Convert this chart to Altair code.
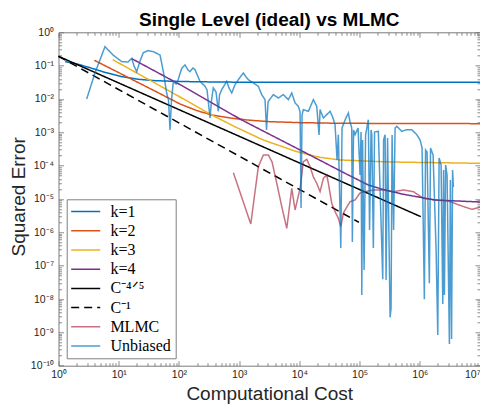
import altair as alt
import pandas as pd

# ---------------- data (log10 of cost, log10 of squared error) ----------------
series_names = ["k=1", "k=2", "k=3", "k=4", "C⁻⁴ᐟ⁵", "C⁻¹", "MLMC", "Unbiased"]

k1_lx = [0.11, 0.27, 0.50, 0.77, 1.05, 1.33, 1.60, 1.90, 2.18, 2.60, 3.20, 7.00]
k1_ly = [-0.88, -0.93, -1.05, -1.20, -1.33, -1.41, -1.45, -1.47, -1.48, -1.49, -1.50, -1.50]

k2_lx = [0.595, 1.00, 1.304, 1.686, 2.018, 2.30, 2.545, 2.85, 3.126, 3.50, 4.01, 4.68, 7.00]
k2_ly = [-0.84, -1.21, -1.49, -1.84, -2.15, -2.35, -2.48, -2.57, -2.63, -2.68, -2.71, -2.73, -2.74]

k3_lx = [0.90, 1.50, 2.018, 2.545, 2.95, 3.40, 3.957, 4.34, 4.68, 5.50, 7.00]
k3_ly = [-0.82, -1.42, -1.94, -2.48, -2.85, -3.23, -3.58, -3.75, -3.83, -3.89, -3.93]

k4_lx = [1.216, 2.018, 3.043, 4.012, 4.759, 5.146, 5.40, 5.701, 6.254, 7.00]
k4_ly = [-0.79, -1.57, -2.63, -3.53, -4.23, -4.58, -4.72, -4.85, -5.03, -5.09]

ref45_lx = [0.0, 6.017]
ref45_ly = [-0.72, -5.53]

ref1_lx = [0.0, 4.99]
ref1_ly = [-0.72, -5.70]

mlmc_lx = [2.904, 3.193, 3.319, 3.402, 3.485, 3.547, 3.625, 3.708, 3.791, 3.874, 3.929,
           4.012, 4.066, 4.123, 4.178, 4.233, 4.289, 4.344, 4.399, 4.455, 4.482, 4.538,
           4.593, 4.648, 4.688, 4.731, 4.759, 4.842, 4.925, 5.008, 5.091, 5.229, 5.395,
           5.561, 5.728, 5.894, 6.060, 6.254, 6.475, 6.698, 6.864, 7.000]
mlmc_ly = [-4.21, -5.75, -4.03, -3.68, -3.68, -3.89, -4.53, -5.23, -5.88, -4.68, -5.33,
           -4.68, -3.88, -3.81, -4.03, -4.34, -4.53, -4.78, -4.38, -4.28, -4.53, -5.13,
           -5.38, -5.58, -5.83, -5.43, -5.33, -5.08, -5.03, -4.82, -4.78, -4.73, -4.73,
           -4.78, -4.73, -4.78, -4.98, -5.03, -5.06, -5.21, -5.31, -5.25]

unb_lx = [0.468, 0.606, 0.772, 0.905, 1.050, 1.154, 1.216, 1.254, 1.299, 1.354, 1.409,
          1.487, 1.575, 1.686, 1.741, 1.797, 1.827, 1.852, 1.877, 1.907, 1.952, 1.985,
          2.047, 2.101, 2.151, 2.184, 2.234, 2.267, 2.350, 2.434, 2.467, 2.517, 2.542,
          2.571, 2.616, 2.654, 2.674, 2.711, 2.794, 2.832, 2.877, 2.932, 2.987, 3.032,
          3.070, 3.115, 3.153, 3.236, 3.319, 3.375, 3.430, 3.455, 3.480, 3.505, 3.568,
          3.651, 3.734, 3.817, 3.874, 3.929, 3.983, 4.012, 4.028, 4.045, 4.066, 4.150,
          4.233, 4.289, 4.327, 4.344, 4.399, 4.455, 4.510, 4.548, 4.593, 4.626, 4.648,
          4.688, 4.709, 4.759, 4.814, 4.842, 4.870, 4.880, 4.900, 4.925, 4.975, 5.008,
          5.025, 5.037, 5.050, 5.075, 5.100, 5.146, 5.166, 5.191, 5.203, 5.229, 5.249,
          5.312, 5.385, 5.399, 5.424, 5.440, 5.465, 5.507, 5.523, 5.540, 5.565, 5.590,
          5.618, 5.701, 5.784, 5.867, 5.950, 6.005, 6.038, 6.076, 6.096, 6.121, 6.159,
          6.179, 6.221, 6.271, 6.299, 6.321, 6.354, 6.382, 6.395, 6.409, 6.429, 6.453,
          6.492, 6.508, 6.528, 6.545, 6.558]
unb_ly = [-2.00, -1.22, -0.43, -0.68, -0.88, -0.89, -0.78, -1.01, -1.18, -0.86, -0.61,
          -0.55, -0.58, -0.68, -1.18, -1.83, -2.03, -2.93, -2.03, -1.48, -1.55, -1.43,
          -1.08, -0.98, -1.13, -1.18, -1.07, -1.12, -1.47, -1.62, -1.73, -2.57, -2.03,
          -1.67, -1.79, -2.37, -1.88, -1.72, -1.47, -1.67, -1.82, -1.57, -1.42, -1.31,
          -1.22, -1.34, -1.42, -1.52, -1.62, -1.87, -2.02, -2.93, -2.09, -2.02, -1.87,
          -1.97, -1.87, -2.02, -1.82, -2.12, -2.22, -2.39, -5.27, -2.48, -2.32, -2.37,
          -2.02, -2.22, -3.08, -2.32, -2.57, -2.47, -2.37, -2.52, -2.77, -3.83, -3.07,
          -6.47, -2.87, -2.63, -2.42, -2.69, -2.87, -6.29, -2.93, -3.07, -2.87, -4.28,
          -2.99, -7.88, -3.23, -7.13, -3.08, -2.62, -5.93, -2.93, -3.07, -6.47, -2.99,
          -2.97, -7.41, -3.23, -3.07, -7.43, -3.17, -8.55, -8.28, -3.08, -5.93, -2.87,
          -2.82, -2.97, -2.92, -2.92, -3.07, -3.23, -3.47, -8.01, -3.53, -3.59, -7.53,
          -3.47, -3.68, -6.53, -9.08, -3.77, -3.98, -8.15, -4.13, -7.88, -3.98, -4.28,
          -9.35, -4.43, -9.20, -4.13, -4.64]

all_series = [
    (series_names[0], k1_lx, k1_ly),
    (series_names[1], k2_lx, k2_ly),
    (series_names[2], k3_lx, k3_ly),
    (series_names[3], k4_lx, k4_ly),
    (series_names[4], ref45_lx, ref45_ly),
    (series_names[5], ref1_lx, ref1_ly),
    (series_names[6], mlmc_lx, mlmc_ly),
    (series_names[7], unb_lx, unb_ly),
]

rows = []
for name, lxs, lys in all_series:
    for i, (a, b) in enumerate(zip(lxs, lys)):
        rows.append({"series": name, "cost": 10 ** a, "err": 10 ** b, "idx": i})
df = pd.DataFrame(rows)

# ---------------- styling ----------------
colors = ["#0072BD", "#D95319", "#EDB120", "#7E2F8E", "#000000", "#000000",
          "rgba(162,20,47,0.6)", "rgba(0,114,189,0.7)"]
dashes = [[1, 0], [1, 0], [1, 0], [1, 0], [1, 0], [8, 5], [1, 0], [1, 0]]
widths = [1.5, 1.5, 1.5, 1.5, 1.5, 1.8, 1.0, 1.0]

AX = "#262626"
TICK = "#6e6e6e"
SANS = "Liberation Sans"

x_major = [10.0 ** e for e in range(0, 8)]
x_minor = [m * 10.0 ** e for e in range(0, 7) for m in range(2, 10)]
y_major = [10.0 ** e for e in range(-10, 1)]
y_minor = [m * 10.0 ** e for e in range(-10, 0) for m in range(2, 10)]

sup = "['⁰','¹','²','³','⁴','⁵','⁶','⁷','⁸','⁹','¹⁰']"
label_expr = ("'10' + (datum.value < 0.5 ? '⁻' : '') + " + sup +
              "[round(abs(log(datum.value)/LN10))]")

xscale = alt.Scale(type="log", domain=[1, 1e7], nice=False)
yscale = alt.Scale(type="log", domain=[1e-10, 1], nice=False)

legend = alt.Legend(
    title=None, orient="none", legendX=8.2, legendY=167,
    symbolType="M-2.42,0H2.42", symbolSize=144,
    symbolOffset=6.7, labelOffset=16.7,
    labelFont="Liberation Serif", labelFontSize=16, labelColor="#000000",
    padding=4.3, rowPadding=3.2,
    strokeColor="#7f7f7f", fillColor="#ffffff",
)

main = alt.Chart(df).mark_line().encode(
    x=alt.X("cost:Q", scale=xscale, axis=alt.Axis(
        orient="bottom", values=x_major, labelExpr=label_expr, tickSize=5, offset=-5,
        domain=False, grid=False, labelPadding=4, labelFont=SANS, labelFontSize=10.5,
        labelColor=AX, tickColor=TICK, tickWidth=0.8, labelOverlap=False, labelFlush=False,
        labelAlign={"condition": {"test": "datum.value > 5000000", "value": "right"},
                    "value": "center"},
        title="Computational Cost", titleFont=SANS, titleFontSize=19,
        titleFontWeight="normal", titleColor=AX, titleY=39, titleBaseline="alphabetic")),
    y=alt.Y("err:Q", scale=yscale, axis=alt.Axis(
        orient="left", values=y_major, labelExpr=label_expr, tickSize=5, offset=-5,
        domain=False, grid=False, labelPadding=5, labelFont=SANS, labelFontSize=10.5,
        labelColor=AX, tickColor=TICK, tickWidth=0.8, labelOverlap=False, labelFlush=False,
        title="Squared Error", titleFont=SANS, titleFontSize=19, titleFontWeight="normal",
        titleColor=AX, titleX=-39.5, titleY=164, titleBaseline="alphabetic",
        titleAngle=270)),
    color=alt.Color("series:N", scale=alt.Scale(domain=series_names, range=colors), legend=legend),
    strokeDash=alt.StrokeDash("series:N", scale=alt.Scale(domain=series_names, range=dashes), legend=legend),
    strokeWidth=alt.StrokeWidth("series:N", scale=alt.Scale(domain=series_names, range=widths), legend=legend),
    order=alt.Order("idx:Q"),
    detail="series:N",
)


def tick_layer(xorient, yorient, xvals, yvals, size):
    return alt.Chart(df).mark_point(opacity=0, size=1).encode(
        x=alt.X("cost:Q", scale=xscale, axis=alt.Axis(
            orient=xorient, values=xvals, labels=False, tickSize=size, offset=-size,
            domain=False, grid=False, tickColor=TICK, tickWidth=0.8, title=None)),
        y=alt.Y("err:Q", scale=yscale, axis=alt.Axis(
            orient=yorient, values=yvals, labels=False, tickSize=size, offset=-size,
            domain=False, grid=False, tickColor=TICK, tickWidth=0.8, title=None)),
    )


chart = alt.layer(
    main,
    tick_layer("bottom", "left", x_minor, y_minor, 3),
    tick_layer("top", "right", x_major, y_major, 5),
    tick_layer("top", "right", x_minor, y_minor, 3),
).resolve_axis(x="independent", y="independent").properties(
    width=421.5, height=333.4,
    title=alt.TitleParams("Single Level (ideal) vs MLMC", font=SANS, fontSize=19,
                          fontWeight="bold", color="#000000", anchor="middle", offset=-3),
    autosize=alt.AutoSizeParams(type="none"),
    padding={"left": 50.5, "top": 24.3, "right": 0, "bottom": 39},
).configure_view(stroke="#7a7a7a", strokeWidth=1)

chart.save("out.html", embed_options={"renderer": "svg", "actions": False})
